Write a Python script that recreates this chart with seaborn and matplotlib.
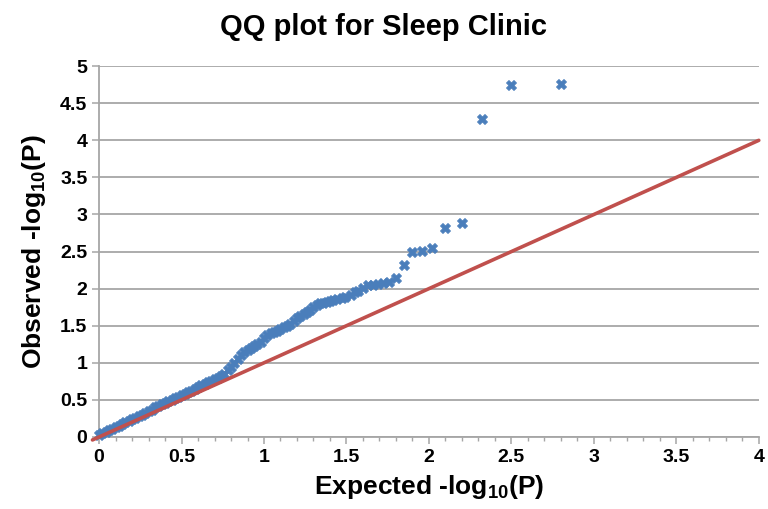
import pandas as pd
import seaborn as sns
import matplotlib.pyplot as plt
from matplotlib.ticker import MultipleLocator

# expected vs observed -log10(P)
expected = [0.00, 0.02, 0.04, 0.06, 0.08, 0.10, 0.12, 0.14, 0.16, 0.18,
            0.20, 0.22, 0.24, 0.26, 0.28, 0.30, 0.32, 0.34, 0.36, 0.38,
            0.40, 0.42, 0.44, 0.46, 0.48, 0.50, 0.52, 0.54, 0.56, 0.58,
            0.60, 0.62, 0.64, 0.66, 0.68, 0.70, 0.72, 0.74, 0.76, 0.78,
            0.80, 0.82, 0.84, 0.86, 0.88, 0.90, 0.92, 0.94, 0.96, 0.98,
            1.00, 1.02, 1.04, 1.06, 1.08, 1.10, 1.12, 1.14, 1.16, 1.18,
            1.20, 1.22, 1.24, 1.26, 1.28, 1.30, 1.32, 1.34, 1.36, 1.38,
            1.40, 1.42, 1.44, 1.47, 1.49, 1.53, 1.55, 1.57, 1.60, 1.63,
            1.66, 1.69, 1.72, 1.76, 1.80, 1.85, 1.90, 1.96, 2.02, 2.10,
            2.20, 2.32, 2.50, 2.80]
observed = [0.03, 0.05, 0.07, 0.09, 0.11, 0.13, 0.15, 0.18, 0.20, 0.22,
            0.24, 0.26, 0.28, 0.30, 0.32, 0.35, 0.37, 0.40, 0.42, 0.44,
            0.46, 0.48, 0.50, 0.52, 0.54, 0.56, 0.58, 0.60, 0.62, 0.65,
            0.67, 0.70, 0.72, 0.74, 0.76, 0.78, 0.80, 0.82, 0.85, 0.90,
            0.95, 1.00, 1.05, 1.10, 1.14, 1.17, 1.20, 1.22, 1.25, 1.28,
            1.33, 1.38, 1.40, 1.41, 1.43, 1.45, 1.48, 1.50, 1.53, 1.57,
            1.60, 1.63, 1.66, 1.68, 1.71, 1.75, 1.78, 1.80, 1.81, 1.82,
            1.84, 1.85, 1.86, 1.87, 1.89, 1.91, 1.95, 1.97, 2.01, 2.05,
            2.05, 2.06, 2.07, 2.09, 2.14, 2.32, 2.49, 2.51, 2.55, 2.82,
            2.89, 4.29, 4.75, 4.76]

# null line y = x
null_x = [-0.04, 4.0]
null_y = [-0.04, 4.0]

df = pd.DataFrame({"expected": expected, "observed": observed})

sns.set_theme(style="white")
plt.rcParams['font.family'] = ['Liberation Sans', 'DejaVu Sans']
plt.rcParams['font.weight'] = 'bold'
plt.rcParams['mathtext.fontset'] = 'custom'
plt.rcParams['mathtext.rm'] = 'Liberation Sans:bold'
plt.rcParams['mathtext.bf'] = 'Liberation Sans:bold'
plt.rcParams['text.color'] = 'black'
plt.rcParams['axes.labelcolor'] = 'black'
plt.rcParams['xtick.labelcolor'] = 'black'
plt.rcParams['ytick.labelcolor'] = 'black'

fig = plt.figure(figsize=(7.68, 5.09), dpi=100)
ax = fig.add_axes([0.129, 0.1415, 0.859, 0.7285])

sns.scatterplot(data=df, x="expected", y="observed", marker="X", s=52,
                color="#4a7ebb", edgecolor="#4a7ebb", linewidth=0.6,
                ax=ax, zorder=3, clip_on=False)
sns.lineplot(x=null_x, y=null_y, color="#c0504d", linewidth=2.6, ax=ax,
             zorder=4, clip_on=False)

ax.set_xlim(0, 4)
ax.set_ylim(0, 5)
ax.xaxis.set_major_locator(MultipleLocator(0.5))
ax.xaxis.set_minor_locator(MultipleLocator(0.1))
ax.yaxis.set_major_locator(MultipleLocator(0.5))
ax.set_xticklabels([f"{v:g}" for v in ax.get_xticks()])
ax.set_yticklabels([f"{v:g}" for v in ax.get_yticks()])

ax.grid(axis="y", color="#a6a6a6", linewidth=1.3)
ax.set_axisbelow(True)
for s in ["top", "right"]:
    ax.spines[s].set_visible(False)
for s in ["left", "bottom"]:
    ax.spines[s].set_color("#a6a6a6")
    ax.spines[s].set_linewidth(1.3)

ax.tick_params(axis="both", which="major", length=5, width=1.1,
               color="#a6a6a6", labelcolor="black", labelsize=14,
               direction="out", bottom=True, left=True)
ax.tick_params(axis="x", which="minor", length=3, width=1,
               color="#a6a6a6", direction="out", bottom=True)
for lab in ax.get_xticklabels() + ax.get_yticklabels():
    lab.set_fontweight("bold")

ax.set_xlabel(r"Expected -log$_{10}$(P)", fontsize=19, fontweight="bold",
              labelpad=5, color="black")
ax.set_ylabel(r"Observed -log$_{10}$(P)", fontsize=19, fontweight="bold",
              labelpad=9, color="black")
fig.suptitle("QQ plot for Sleep Clinic", fontsize=21, fontweight="bold",
             y=0.975, color="black")

fig.savefig("out.png", dpi=100)
